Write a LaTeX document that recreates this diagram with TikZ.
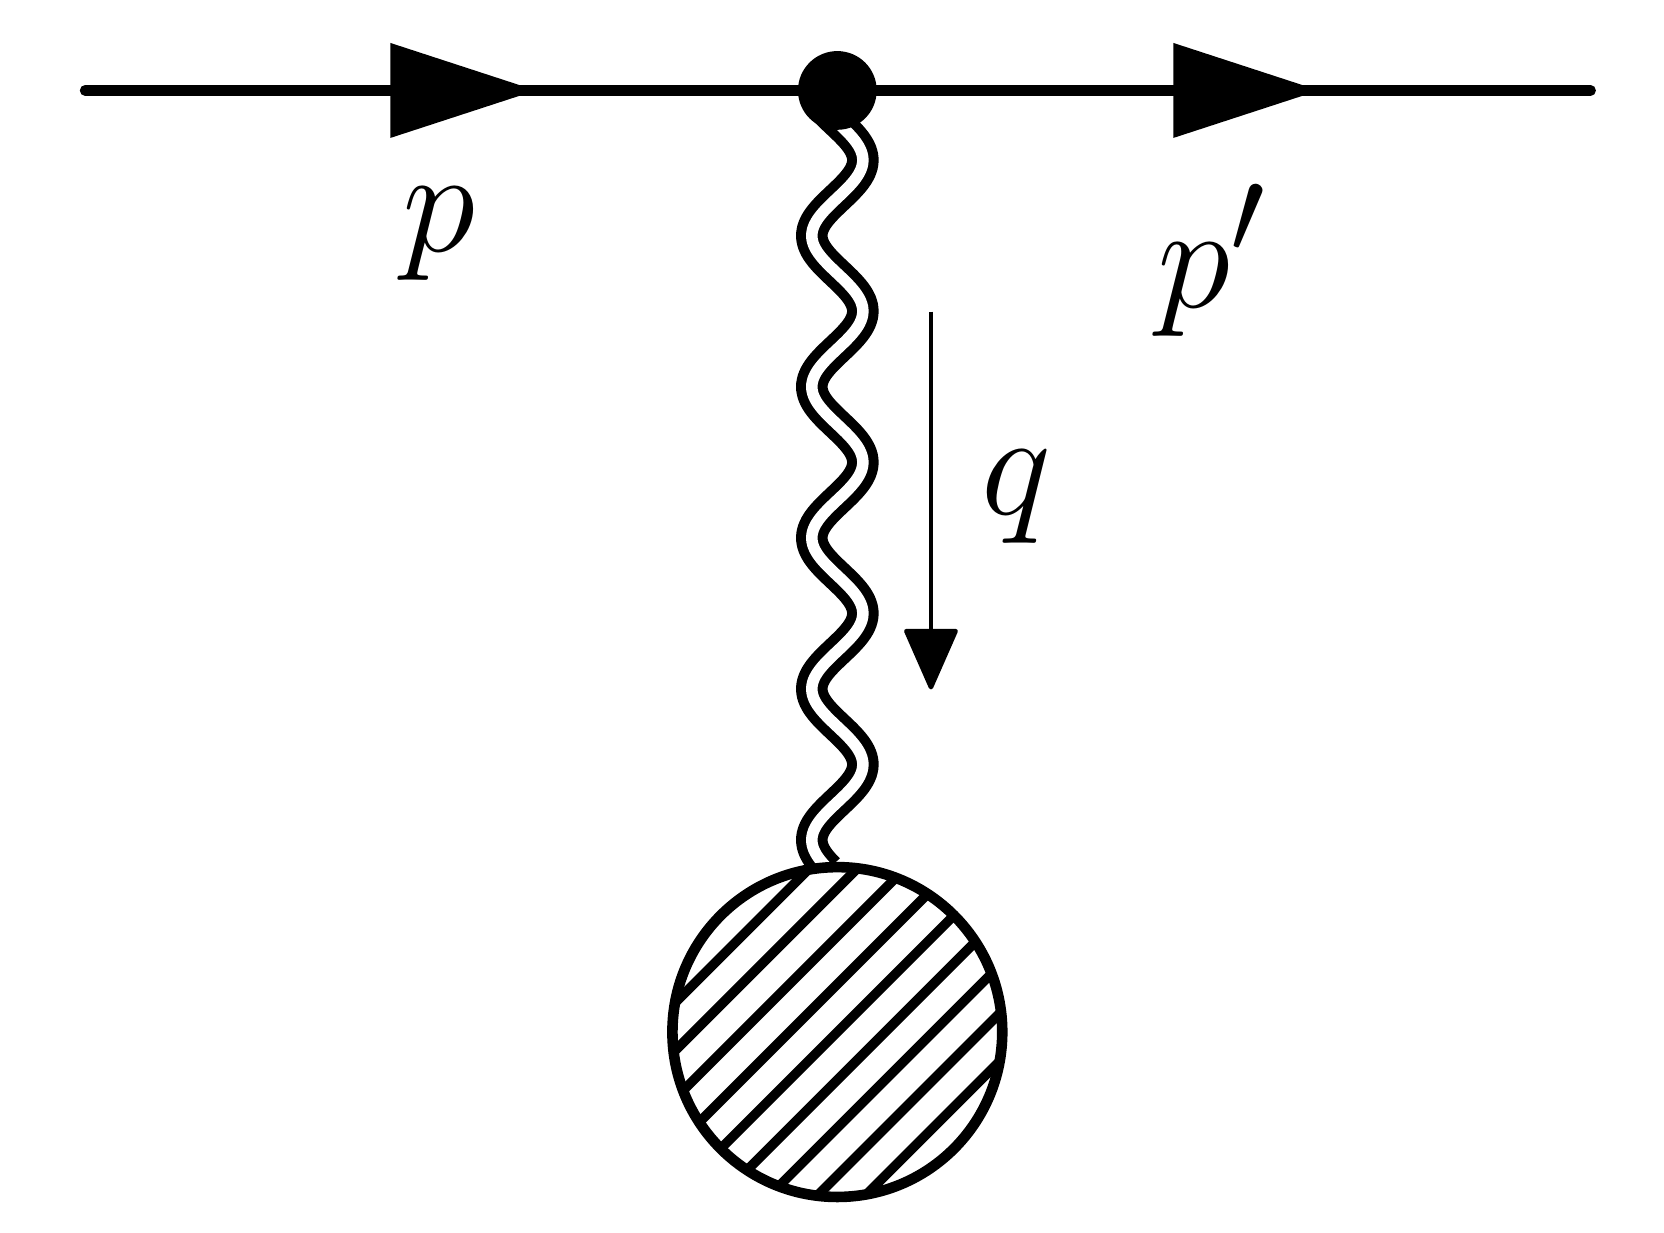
\documentclass[tikz,border=0pt]{standalone}
\usetikzlibrary{arrows.meta,calc,decorations.markings}

\tikzset{
  fermion/.style={line width=0.106cm,line cap=round,postaction={decorate},
    decoration={markings,mark=at position #1 with {\arrow{Triangle[length=1.46cm,width=0.92cm]}}}},
  photon/.style={line width=0.1cm,double=white,double distance=0.115cm},
  momentum/.style={line width=0.045cm,-{Triangle[length=0.64cm,width=0.55cm,round]}},
  lbl/.style={font=\Huge}
}

\begin{document}
\begin{tikzpicture}[x=0.01064cm,y=-0.01064cm]
\useasboundingbox (0,0) rectangle (1564,1158);

% ---- Points --------------------------------------------------
\coordinate (in) at (80,85);
\coordinate (out) at (1495,85);
\node[circle,minimum size=0.79cm,inner sep=0] (vtx) at (787,85) {};
\node[circle,minimum size=3.3cm,inner sep=0] (blob) at (787,970) {};

% ---- Photon ---------------------------------------------------
\draw[photon] plot[domain=92:817,samples=160,smooth] ({787+24*sin(2.5352*(\x-115))},\x);

% ---- Fermion line --------------------------------------------
\draw[fermion=0.6] (in) -- (vtx.center);
\draw[fermion=0.64] (vtx.center) -- (out);
\fill (vtx.center) circle (37);

% ---- Blob -----------------------------------------------------
\begin{scope}
  \clip (blob.center) circle (155);
  \fill[white] (blob.center) circle (155);
  \foreach \d in {-180,-135,-90,-45,0,45,90,135,180}
    \draw[line width=0.096cm] ($(blob.center)+(\d,0)+(-200,200)$) -- ($(blob.center)+(\d,0)+(200,-200)$);
\end{scope}
\draw[line width=0.106cm] (blob.center) circle (155);

% ---- Momentum -------------------------------------------------
\coordinate (qa) at (875,293);
\coordinate (qb) at (875,648);
\draw[momentum] (qa) -- (qb);

% ---- Labels ---------------------------------------------------
\node[lbl] (p) at (413,220) {\scalebox{1.7}{$p$}};
\node[lbl] (pp) at (1140,245) {\scalebox{1.7}{$p'$}};
\node[lbl] (q) at (955,467) {\scalebox{1.7}{$q$}};
\end{tikzpicture}
\end{document}
